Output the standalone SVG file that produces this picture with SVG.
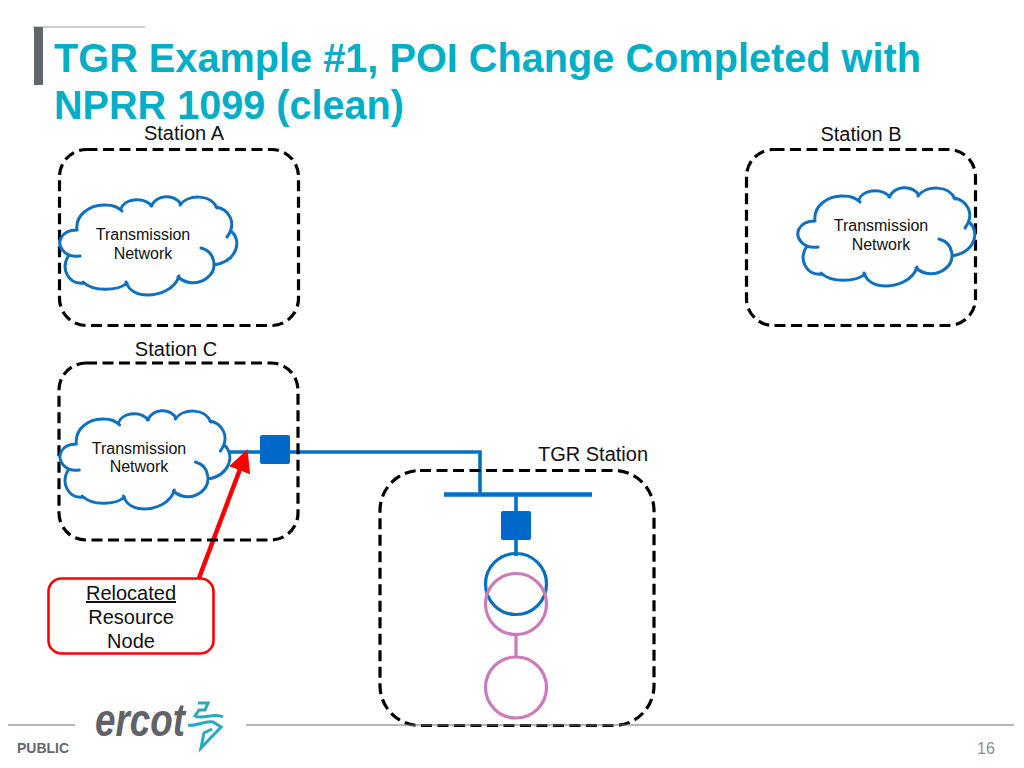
<svg xmlns="http://www.w3.org/2000/svg" xmlns:xlink="http://www.w3.org/1999/xlink" width="1024" height="768" viewBox="0 0 1024 768">
<style>
text{font-family:"Liberation Sans",Arial,sans-serif;fill:#111}
.title{font-size:40px;font-weight:700;fill:#00aec7}
.lbl{font-size:20px;text-anchor:middle}
.cl{font-size:16px;text-anchor:middle}
.box{fill:none;stroke:#000;stroke-width:3.2;stroke-dasharray:11 5.5}
.cloud{fill:none;stroke:#0f70bf;stroke-width:3;stroke-linecap:round;stroke-linejoin:round}
.blue{fill:none;stroke:#0070c8;stroke-width:3.6}
.pink{fill:none;stroke:#cb7bba;stroke-width:3.2}
.brk{fill:#0068c8}
.rule{stroke:#6d7276;stroke-width:1.2}
</style>
<defs>
<path id="cloud" d="M77 230C75 215 90 204 106 205C112 205 118 207 122 211M121 209C123 200 142 195 152 206M151 206C157 195 173 193 181 204M180 205C188 194 211 194 217 208M216 207C228 209 238 222 227 237M231 231C242 240 238 261 214 265M201 248C216 252 218 270 207 278C198 285 186 284 178 277M179 276C175 290 158 295 148 295C138 295 129 291 126 282M127 283C118 291 93 292 83 282M84 283C68 285 60 268 69 255M80 256C64 258 57 246 61 238C64 232 70 230 77 230"/>
<marker id="ah" markerWidth="5" markerHeight="5" refX="3.4" refY="2.5" orient="auto"><path d="M0 0L5 2.5L0 5Z" fill="#f00"/></marker>
</defs>
<g id="header"><path d="M33 27H145" stroke="#9a9da0" stroke-width="1.2"/><rect x="34" y="27" width="9" height="58" fill="#5f666c"/>
<text class="title" x="54" y="72" textLength="867" lengthAdjust="spacingAndGlyphs">TGR Example #1, POI Change Completed with</text>
<text class="title" x="54" y="119" textLength="350" lengthAdjust="spacingAndGlyphs">NPRR 1099 (clean)</text></g>
<g id="connectors">
<path class="blue" d="M229 452H480V494M516 494V556"/>
<path d="M444 494.500H592" stroke="#0070c8" stroke-width="4.500"/>
<path class="pink" d="M516 634V658"/>
<path d="M199 578L245 456" stroke="#f00" stroke-width="4.500" marker-end="url(#ah)"/>
</g>
<g id="station-a"><rect class="box" x="59.500" y="149.500" width="239" height="176" rx="27"/>
<text class="lbl" x="184" y="140">Station A</text>
<use xlink:href="#cloud" class="cloud"/>
<text class="cl" x="143" y="240">Transmission</text><text class="cl" x="143" y="258.500">Network</text></g>
<g id="station-b"><rect class="box" x="746.500" y="149.500" width="229" height="176" rx="27"/>
<text class="lbl" x="861" y="141">Station B</text>
<use xlink:href="#cloud" class="cloud" transform="translate(738,-9)"/>
<text class="cl" x="881" y="231">Transmission</text><text class="cl" x="881" y="250">Network</text></g>
<g id="station-c"><rect class="box" x="59" y="363" width="239" height="177" rx="27"/>
<text class="lbl" x="176" y="356">Station C</text>
<use xlink:href="#cloud" class="cloud" transform="translate(2.500,214) scale(.96,1)"/>
<text class="cl" x="139" y="454">Transmission</text><text class="cl" x="139" y="472">Network</text></g>
<g id="breaker-c"><rect class="brk" x="260" y="435" width="30" height="29" rx="2"/></g>
<g id="tgr-station"><rect class="box" x="380" y="470.500" width="274" height="255" rx="40"/>
<text class="lbl" x="593" y="461">TGR Station</text>
<rect class="brk" x="501" y="511" width="30" height="29" rx="2"/>
<circle cx="516" cy="584" r="30.500" fill="none" stroke="#0070c0" stroke-width="3.200"/>
<circle class="pink" cx="516" cy="604" r="30.500"/>
<circle class="pink" cx="516" cy="687.500" r="30.500"/></g>
<g id="relocated-node"><rect x="48.500" y="578.500" width="165" height="75" rx="13" fill="#fff" stroke="#f00" stroke-width="2.600"/>
<text class="lbl" x="131" y="600" text-decoration="underline">Relocated</text>
<text class="lbl" x="131" y="624">Resource</text>
<text class="lbl" x="131" y="648">Node</text></g>
<g id="footer">
<path class="rule" d="M8 725H75M246 725H1014"/>
<text x="17" y="753" font-size="14" font-weight="700" style="fill:#63686d">PUBLIC</text>
<text x="95" y="736" font-size="46" font-weight="700" font-style="italic" textLength="90" lengthAdjust="spacingAndGlyphs" style="fill:#5f6368">ercot</text>
<path d="M198 703H208L205 710H199L195 716C203 720 214 712 223 717M188 725C197 727 204 720 213 722L221 727L201 748L204 733L212 729" fill="none" stroke="#28a9bd" stroke-width="3"/>
<text x="986" y="754" font-size="16" text-anchor="middle" style="fill:#8a8f93">16</text></g>
</svg>
